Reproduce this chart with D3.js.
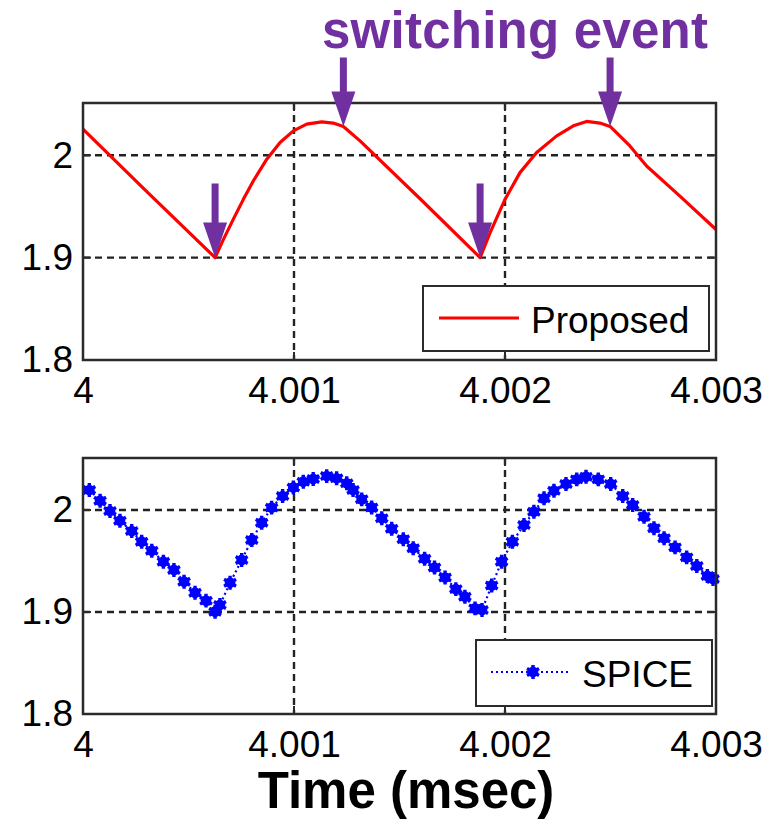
<!DOCTYPE html>
<html>
<head>
<meta charset="utf-8">
<script src="https://cdn.jsdelivr.net/npm/d3@7"></script>
<style>
    body { margin: 0; background: #fff; }
    svg { font-family: "Liberation Sans", Arial, sans-serif; }
</style>
</head>
<body>
<div id="chart"></div>
<script>
// axis ticks
var xTicks = [4, 4.001, 4.002, 4.003];
var xTickLabels = ["4", "4.001", "4.002", "4.003"];
var yTicks = [1.8, 1.9, 2.0];
var yTickLabels = ["1.8", "1.9", "2"];
var xDomain = [4, 4.003];
var yDomain = [1.8, 2.051];

// proposed model (time in msec, voltage)
var proposedT = [4.0, 4.0003, 4.000626, 4.000665, 4.000712, 4.00076, 4.000807, 4.000871,
    4.000934, 4.000997, 4.00106, 4.001131, 4.001186, 4.001234, 4.001313, 4.0016,
    4.001882, 4.001929, 4.002, 4.002071, 4.00215, 4.002245, 4.002324, 4.002387,
    4.00245, 4.002498, 4.002592, 4.002671, 4.002829, 4.003];
var proposedV = [2.0255, 1.965, 1.900, 1.9176, 1.9373, 1.9569, 1.9748, 1.9961,
    2.0125, 2.0238, 2.0304, 2.0326, 2.0314, 2.0281, 2.0140, 1.957,
    1.900, 1.9242, 1.9569, 1.983, 2.0026, 2.0189, 2.0287, 2.033,
    2.0314, 2.0281, 2.0091, 1.9895, 1.960, 1.9275];

// SPICE reference
var spiceT = [4.00003, 4.000081, 4.000128, 4.000175, 4.000231, 4.000278, 4.000326, 4.000381,
    4.000431, 4.000479, 4.000531, 4.000583, 4.000626, 4.000649, 4.000697, 4.000752,
    4.0008, 4.000847, 4.000894, 4.000946, 4.000997, 4.001044, 4.001091, 4.001155,
    4.001202, 4.00125, 4.00128, 4.001321, 4.001368, 4.001416, 4.001463, 4.001518,
    4.001565, 4.001619, 4.001666, 4.001716, 4.001767, 4.00181, 4.001858, 4.001891,
    4.001937, 4.001984, 4.002035, 4.00209, 4.002137, 4.002185, 4.002232, 4.002289,
    4.00234, 4.002384, 4.002442, 4.002501, 4.002558, 4.002605, 4.002659, 4.002706,
    4.002754, 4.002806, 4.002861, 4.002909, 4.002959, 4.002986];
var spiceV = [2.0196, 2.0091, 1.9990, 1.9895, 1.9794, 1.9689, 1.9601, 1.9493,
    1.9412, 1.9297, 1.9189, 1.9111, 1.9003, 1.9069, 1.9287, 1.9510,
    1.9706, 1.9875, 2.0023, 2.0137, 2.0221, 2.0277, 2.0304, 2.0333,
    2.0311, 2.0262, 2.0196, 2.0105, 2.0025, 1.9919, 1.9816, 1.9713,
    1.9625, 1.9522, 1.9436, 1.9338, 1.9225, 1.9150, 1.9036, 1.9020,
    1.9260, 1.9493, 1.9689, 1.9853, 1.9983, 2.0115, 2.0189, 2.0255,
    2.0301, 2.0326, 2.0301, 2.0255, 2.0137, 2.0049, 1.9934, 1.9821,
    1.9723, 1.9634, 1.9536, 1.9451, 1.9353, 1.9324];

// switching events marked with arrows on the top panel
var switchT = [4.000626, 4.001234, 4.001882, 4.002498];
var switchV = [1.900, 2.0281, 1.900, 2.0281];
var switchKind = ["min", "max", "min", "max"];

var svg_size = { width: 776, height: 822 };
var plot_left = 83, plot_right = 716;
var purple = "#7030a0";
var axis_color = "#2b2b2b";

var svg = d3.select("#chart").append("svg")
    .attr("width", svg_size.width)
    .attr("height", svg_size.height);

var x_scale = d3.scaleLinear().domain(xDomain).range([plot_left, plot_right]);

function drawPanel(top, bottom) {
    var y_scale = d3.scaleLinear().domain(yDomain).range([bottom, top]);
    var g = svg.append("g");

    // dashed grid
    g.selectAll(".vgrid").data(xTicks.slice(1, -1)).enter().append("line")
        .attr("x1", function(d){ return x_scale(d); })
        .attr("x2", function(d){ return x_scale(d); })
        .attr("y1", top).attr("y2", bottom)
        .attr("stroke", "#222").attr("stroke-width", 2.4)
        .attr("stroke-dasharray", "7,5");
    g.selectAll(".hgrid").data(yTicks.slice(1)).enter().append("line")
        .attr("x1", plot_left).attr("x2", plot_right)
        .attr("y1", function(d){ return y_scale(d); })
        .attr("y2", function(d){ return y_scale(d); })
        .attr("stroke", "#222").attr("stroke-width", 2.4)
        .attr("stroke-dasharray", "7,5");

    // x tick labels
    var x_axis = d3.axisBottom(x_scale)
        .tickValues(xTicks)
        .tickFormat(function(d, i){ return xTickLabels[i]; })
        .tickSize(0)
        .tickPadding(17);
    var xg = g.append("g").attr("transform", "translate(0," + bottom + ")").call(x_axis);
    xg.select(".domain").remove();
    xg.selectAll("text").attr("font-size", 37).attr("fill", "#000")
        .attr("font-family", "Liberation Sans, Arial, sans-serif");

    // y tick labels
    var y_axis = d3.axisLeft(y_scale)
        .tickValues(yTicks)
        .tickFormat(function(d, i){ return yTickLabels[i]; })
        .tickSize(0)
        .tickPadding(10);
    var yg = g.append("g").attr("transform", "translate(" + plot_left + ",0)").call(y_axis);
    yg.select(".domain").remove();
    yg.selectAll("text").attr("font-size", 37).attr("fill", "#000")
        .attr("font-family", "Liberation Sans, Arial, sans-serif");

    // inner tick marks
    xTicks.forEach(function(d){
        [[bottom, bottom - 8], [top, top + 8]].forEach(function(p){
            g.append("line")
                .attr("x1", x_scale(d)).attr("x2", x_scale(d))
                .attr("y1", p[0]).attr("y2", p[1])
                .attr("stroke", axis_color).attr("stroke-width", 2);
        });
    });
    yTicks.forEach(function(d){
        [[plot_left, plot_left + 8], [plot_right, plot_right - 8]].forEach(function(p){
            g.append("line")
                .attr("x1", p[0]).attr("x2", p[1])
                .attr("y1", y_scale(d)).attr("y2", y_scale(d))
                .attr("stroke", axis_color).attr("stroke-width", 2);
        });
    });

    return { g: g, y: y_scale, top: top, bottom: bottom };
}

function drawBox(p) {
    p.g.append("rect")
        .attr("x", plot_left).attr("y", p.top)
        .attr("width", plot_right - plot_left).attr("height", p.bottom - p.top)
        .attr("fill", "none").attr("stroke", axis_color).attr("stroke-width", 2.5);
}

function spiceMarker(sel, cx, cy) {
    sel.append("circle").attr("cx", cx).attr("cy", cy).attr("r", 5.4).attr("fill", "#0000ff");
    sel.append("path")
        .attr("d", d3.symbol(d3.symbolAsterisk, 135)())
        .attr("transform", "translate(" + cx + "," + cy + ")")
        .attr("fill", "none").attr("stroke", "#0000ff").attr("stroke-width", 3.4);
}

// ---- top panel: proposed ----
var top_panel = drawPanel(103, 360);
var proposed_data = proposedT.map(function(t, i){ return [t, proposedV[i]]; });
top_panel.g.append("path")
    .datum(proposed_data)
    .attr("d", d3.line()
        .x(function(d){ return x_scale(d[0]); })
        .y(function(d){ return top_panel.y(d[1]); }))
    .attr("fill", "none").attr("stroke", "#ff0000").attr("stroke-width", 3.2)
    .attr("stroke-linejoin", "round");
drawBox(top_panel);

// legend top
var leg1 = top_panel.g.append("g");
leg1.append("rect").attr("x", 423).attr("y", 286).attr("width", 286).attr("height", 65)
    .attr("fill", "#fff").attr("stroke", axis_color).attr("stroke-width", 2);
leg1.append("line").attr("x1", 439).attr("x2", 519).attr("y1", 318).attr("y2", 318)
    .attr("stroke", "#ff0000").attr("stroke-width", 3.2);
leg1.append("text").attr("x", 531).attr("y", 333).attr("font-size", 37).text("Proposed");

// ---- bottom panel: SPICE ----
var bottom_panel = drawPanel(458, 714);
var spice_data = spiceT.map(function(t, i){ return [t, spiceV[i]]; });
bottom_panel.g.append("path")
    .datum(spice_data)
    .attr("d", d3.line()
        .x(function(d){ return x_scale(d[0]); })
        .y(function(d){ return bottom_panel.y(d[1]); }))
    .attr("fill", "none").attr("stroke", "#0000ff").attr("stroke-width", 2.2)
    .attr("stroke-dasharray", "2,3");
var marker_group = bottom_panel.g.append("g");
spice_data.forEach(function(d){
    spiceMarker(marker_group, x_scale(d[0]), bottom_panel.y(d[1]));
});
drawBox(bottom_panel);

// legend bottom
var leg2 = bottom_panel.g.append("g");
leg2.append("rect").attr("x", 476).attr("y", 640).attr("width", 236).attr("height", 66)
    .attr("fill", "#fff").attr("stroke", axis_color).attr("stroke-width", 2);
leg2.append("line").attr("x1", 491).attr("x2", 568).attr("y1", 672).attr("y2", 672)
    .attr("stroke", "#0000ff").attr("stroke-width", 2.2).attr("stroke-dasharray", "2,3");
spiceMarker(leg2, 533, 672);
leg2.append("text").attr("x", 582).attr("y", 687).attr("font-size", 37).text("SPICE");

// x label
svg.append("text")
    .attr("x", 406).attr("y", 808)
    .attr("text-anchor", "middle")
    .attr("font-size", 51).attr("font-weight", "bold")
    .text("Time (msec)");

// ---- switching event annotation ----
svg.append("text")
    .attr("x", 322).attr("y", 48)
    .attr("font-size", 51).attr("font-weight", "bold")
    .attr("fill", purple)
    .attr("textLength", 386)
    .text("switching event");

var arrow_len = { min: 74, max: 69 };
var head_len = 35, head_half = 12, shaft_half = 3.5;
switchT.forEach(function(t, i){
    var tx = x_scale(t);
    var ty = top_panel.y(switchV[i]);
    var len = arrow_len[switchKind[i]];
    var pts = [
        [tx - shaft_half, ty - len], [tx + shaft_half, ty - len],
        [tx + shaft_half, ty - head_len], [tx + head_half, ty - head_len],
        [tx, ty], [tx - head_half, ty - head_len], [tx - shaft_half, ty - head_len]
    ];
    svg.append("path")
        .attr("d", d3.line()(pts) + "Z")
        .attr("fill", purple);
});
</script>
</body>
</html>
